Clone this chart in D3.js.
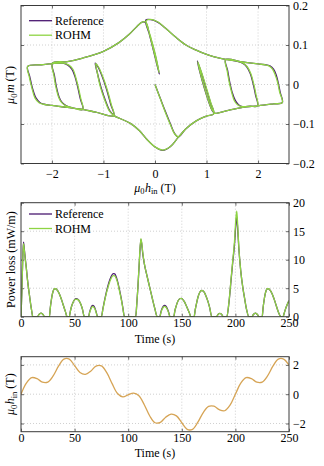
<!DOCTYPE html>
<html>
<head>
<meta charset="utf-8">
<script src="https://cdn.jsdelivr.net/npm/d3@7"></script>
<style>
  body { margin: 0; background: #fff; }
  svg { display: block; }
  text { font-family: "Liberation Serif", "DejaVu Serif", serif; font-size: 12px; fill: #000; }
</style>
</head>
<body>
<div id="chart"></div>
<script>
// ---- data ----
let seriesNames = ['Reference', 'ROHM'];
let hTicks = [-2, -1, 0, 1, 2];
let mTicks = [-0.2, -0.1, 0, 0.1, 0.2];
let timeTicks = [0, 50, 100, 150, 200, 250];
let lossTicks = [0, 5, 10, 15, 20];
let hinTicks = [-2, 0, 2];

// applied field over time (T)
let hinT = [0,5,10,15,20,25,30,35,40,45,50,55,60,65,70,75,80,85,90,95,100,
  105,110,115,120,125,130,135,140,145,150,155,160,165,170,175,180,185,190,195,200,
  205,210,215,220,225,230,235,240,245,250];
let hinVals = [0,0.75,1.13,1.06,0.82,0.83,1.25,1.91,2.40,2.40,1.95,1.48,1.36,1.57,1.92,1.93,1.47,0.72,0.05,-0.18,-0.04,
  0.07,-0.10,-0.72,-1.47,-1.95,-1.92,-1.57,-1.36,-1.48,-1.95,-2.40,-2.40,-1.91,-1.25,-0.83,-0.82,-1.06,-1.13,-0.75,0,
  0.75,1.13,1.06,0.82,0.83,1.25,1.91,2.40,2.40,1.98];

// power loss (mW/m), one row per bump
let lossT = [
  0,0.8,1.6,2.3,3.0,4,5,6,7,8,9,10,11,
  15.5,16.5,17.5,18.7,19.8,20.8,21.8,
  26.5,27.3,28.2,29.2,30.2,31.2,32.5,34,35.5,37,38.5,40,41.5,43,
  45,46,47,48.5,50,51.5,53,54.5,56,57.5,59,
  63,64,65,66,67,68,69,70,71.5,
  75,76.5,78,80,82,84,86,87.5,89,90.5,92,93.5,95,96.5,
  107,108,109,110.5,111.8,112.6,113.5,115,117,119,121,123,125,127,
  129.5,130.5,131.5,132.8,134,135.2,136.5,137.7,139,
  142.5,143.5,144.8,146.3,148,149.5,151,152.5,154,155.5,157,158.5,
  161.5,162.5,163.8,165.2,166.8,168.5,170,171.5,173,174.5,176,178,
  182.5,183.5,184.5,185.5,186.5,187.5,188.5,
  192,194,196,197.5,199,200.5,201.3,202.2,203.2,205,207,208.5,210.5,212.5,
  215.5,216.5,217.5,218.7,219.8,220.8,221.8,
  225,225.8,226.7,227.7,228.7,229.7,231,232.5,234,235.5,237,238.5,240,242.5,
  244.5,245.5,246.5,247.5,248.5,249.3,250];
let lossRef = [
  0,4.5,10,13.1,12.0,10.2,8.5,6.6,5.0,3.6,2.2,1.0,0,
  0,0.3,0.52,0.62,0.52,0.3,0,
  0,1.5,2.8,3.9,4.6,4.9,4.9,4.6,4.1,3.4,2.6,1.7,0.85,0,
  0,0.9,1.7,2.5,3.0,3.15,3.05,2.7,2.1,1.2,0,
  0,0.8,1.4,1.85,2.0,1.85,1.5,0.9,0,
  0,1.5,2.9,4.6,6.0,7.0,7.55,7.5,6.9,5.9,4.6,3.2,1.6,0,
  0,2.2,5,10,13.5,12.8,11.2,9.3,7.6,6.0,4.4,2.8,1.3,0,
  0,0.8,1.4,1.85,2.0,1.85,1.4,0.8,0,
  0,1.0,1.9,2.7,3.15,3.2,3.0,2.6,2.0,1.35,0.7,0,
  0,1.2,2.4,3.5,4.3,4.6,4.5,4.1,3.4,2.6,1.6,0,
  0,0.3,0.52,0.6,0.52,0.3,0,
  0,2.5,6.5,9.5,12.3,16.3,17.5,15.2,12,8,5,3.3,1.2,0,
  0,0.3,0.52,0.62,0.52,0.3,0,
  0,1.5,2.8,3.9,4.6,4.9,4.9,4.6,4.1,3.4,2.6,1.7,0.85,0,
  0,0.6,1.2,1.75,2.2,2.55,2.8];
let lossRohm = [
  0,4.4,9.8,12.8,11.8,10.0,8.4,6.5,5.0,3.6,2.2,1.0,0,
  0,0.3,0.52,0.62,0.52,0.3,0,
  0,1.5,2.8,3.9,4.6,4.9,4.9,4.6,4.1,3.4,2.6,1.7,0.85,0,
  0,0.9,1.7,2.5,2.95,3.1,3.0,2.7,2.1,1.2,0,
  0,0.7,1.25,1.65,1.8,1.65,1.35,0.8,0,
  0,1.4,2.8,4.4,5.7,6.7,7.2,7.15,6.6,5.7,4.4,3.1,1.5,0,
  0,2.2,5,10.2,13.7,13.0,11.4,9.4,7.6,6.0,4.4,2.8,1.3,0,
  0,0.7,1.25,1.65,1.8,1.65,1.25,0.7,0,
  0,1.0,1.9,2.7,3.15,3.2,3.0,2.6,2.0,1.35,0.7,0,
  0,1.2,2.4,3.5,4.3,4.6,4.5,4.1,3.4,2.6,1.6,0,
  0,0.3,0.52,0.6,0.52,0.3,0,
  0,2.6,6.7,9.8,12.8,17.3,18.5,15.8,12.2,8,5,3.3,1.2,0,
  0,0.3,0.52,0.62,0.52,0.3,0,
  0,1.5,2.8,3.9,4.6,4.9,4.9,4.6,4.1,3.4,2.6,1.7,0.85,0,
  0,0.6,1.2,1.75,2.2,2.55,2.8];

// magnetisation loop, [h, m] in time order
let loopRef = [
  [0,0],[0.1,-0.034],[0.2,-0.068],[0.3,-0.1],[0.38,-0.124],[0.45,-0.133],[0.6,-0.112],[0.8,-0.092],[1.0,-0.08],[1.14,-0.074],
  [1.08,-0.047],[1.0,-0.013],[0.91,0.026],[0.82,0.06],
  [0.87,0.032],[0.95,-0.006],[1.04,-0.043],[1.11,-0.066],[1.17,-0.073],[1.4,-0.066],[1.7,-0.058],[2.0,-0.054],[2.3,-0.049],[2.47,-0.046],
  [2.43,-0.02],[2.39,0.005],[2.35,0.025],[2.3,0.039],[2.23,0.047],[2.14,0.05],[2.0,0.052],[1.7,0.057],[1.37,0.063],
  [1.41,0.035],[1.45,0.006],[1.5,-0.021],[1.56,-0.041],[1.62,-0.051],[1.7,-0.056],[1.85,-0.055],[1.99,-0.054],
  [1.95,-0.026],[1.9,0.004],[1.85,0.027],[1.78,0.045],[1.7,0.054],[1.62,0.058],[1.4,0.063],[1.15,0.07],[1.0,0.076],[0.8,0.087],
  [0.6,0.1],[0.4,0.12],[0.2,0.143],[0.05,0.158],[-0.08,0.164],[-0.18,0.163],
  [-0.1,0.124],[0.0,0.076],[0.085,0.026],
  [0.0,0.07],[-0.1,0.122],[-0.18,0.157],[-0.25,0.158],[-0.35,0.147],[-0.5,0.127],[-0.7,0.106],[-1.0,0.084],[-1.4,0.067],[-1.7,0.058],[-1.99,0.054],
  [-1.95,0.022],[-1.91,-0.008],[-1.86,-0.032],[-1.8,-0.046],[-1.72,-0.054],[-1.6,-0.059],[-1.4,-0.063],
  [-1.45,-0.036],[-1.5,-0.006],[-1.55,0.019],[-1.61,0.038],[-1.69,0.049],[-1.79,0.054],[-2.0,0.053],[-2.2,0.05],[-2.47,0.046],
  [-2.43,0.02],[-2.38,-0.008],[-2.31,-0.034],[-2.23,-0.046],[-2.15,-0.05],[-2.0,-0.053],[-1.7,-0.058],[-1.4,-0.063],[-1.15,-0.07],[-0.8,-0.079],
  [-0.86,-0.05],[-0.94,-0.012],[-1.03,0.022],[-1.1,0.043],[-1.16,0.054],
  [-1.12,0.03],[-1.05,-0.006],[-0.96,-0.041],[-0.87,-0.068],[-0.78,-0.08],[-0.68,-0.086],[-0.47,-0.099],[-0.3,-0.117],[-0.15,-0.14],
  [0.0,-0.158],[0.15,-0.167],[0.3,-0.157],[0.45,-0.134],[0.6,-0.112],[0.8,-0.092],[1.0,-0.08],[1.14,-0.074],
  [1.08,-0.047],[1.0,-0.013],[0.91,0.026],[0.82,0.06],
  [0.87,0.032],[0.95,-0.006],[1.04,-0.043],[1.11,-0.066],[1.17,-0.073],[1.4,-0.066],[1.7,-0.058],[2.0,-0.054],[2.3,-0.049],[2.47,-0.046],
  [2.43,-0.02],[2.39,0.005],[2.35,0.025],[2.3,0.039],[2.23,0.047],[2.14,0.05],[2.0,0.052]
];
let loopRohm = [
  [0,0],[0.1,-0.035],[0.2,-0.07],[0.3,-0.102],[0.38,-0.125],[0.45,-0.132],[0.6,-0.112],[0.8,-0.092],[1.0,-0.08],[1.14,-0.074],
  [1.08,-0.045],[1.0,-0.01],[0.91,0.028],[0.83,0.058],
  [0.87,0.034],[0.95,-0.004],[1.04,-0.042],[1.11,-0.065],[1.17,-0.073],[1.4,-0.066],[1.7,-0.058],[2.0,-0.054],[2.3,-0.049],[2.47,-0.046],
  [2.42,-0.02],[2.38,0.005],[2.33,0.025],[2.28,0.039],[2.21,0.047],[2.13,0.05],[2.0,0.052],[1.7,0.057],[1.37,0.063],
  [1.4,0.035],[1.44,0.006],[1.49,-0.021],[1.54,-0.041],[1.6,-0.051],[1.69,-0.056],[1.85,-0.055],[1.99,-0.054],
  [1.96,-0.026],[1.91,0.004],[1.86,0.027],[1.79,0.045],[1.71,0.054],[1.62,0.058],[1.4,0.063],[1.15,0.07],[1.0,0.076],[0.8,0.087],
  [0.6,0.1],[0.4,0.12],[0.2,0.143],[0.05,0.159],[-0.08,0.165],[-0.17,0.162],
  [-0.09,0.123],[0.01,0.074],[0.08,0.03],
  [0.0,0.072],[-0.1,0.124],[-0.18,0.158],[-0.25,0.158],[-0.35,0.147],[-0.5,0.127],[-0.7,0.106],[-1.0,0.084],[-1.4,0.067],[-1.7,0.058],[-1.99,0.054],
  [-1.96,0.022],[-1.92,-0.008],[-1.87,-0.032],[-1.81,-0.046],[-1.73,-0.054],[-1.6,-0.059],[-1.4,-0.063],
  [-1.44,-0.036],[-1.49,-0.006],[-1.54,0.019],[-1.59,0.038],[-1.67,0.049],[-1.78,0.054],[-2.0,0.053],[-2.2,0.05],[-2.47,0.046],
  [-2.44,0.02],[-2.39,-0.008],[-2.33,-0.034],[-2.25,-0.046],[-2.16,-0.05],[-2.0,-0.053],[-1.7,-0.058],[-1.4,-0.063],[-1.15,-0.07],[-0.8,-0.079],
  [-0.85,-0.05],[-0.93,-0.012],[-1.02,0.022],[-1.09,0.043],[-1.15,0.053],
  [-1.12,0.03],[-1.06,-0.006],[-0.97,-0.041],[-0.88,-0.068],[-0.78,-0.08],[-0.68,-0.086],[-0.47,-0.099],[-0.3,-0.117],[-0.15,-0.14],
  [0.0,-0.158],[0.15,-0.166],[0.3,-0.157],[0.45,-0.134],[0.6,-0.112],[0.8,-0.092],[1.0,-0.08],[1.14,-0.074],
  [1.08,-0.045],[1.0,-0.01],[0.91,0.028],[0.83,0.058],
  [0.87,0.034],[0.95,-0.004],[1.04,-0.042],[1.11,-0.065],[1.17,-0.073],[1.4,-0.066],[1.7,-0.058],[2.0,-0.054],[2.3,-0.049],[2.47,-0.046],
  [2.42,-0.02],[2.38,0.005],[2.33,0.025],[2.28,0.039],[2.21,0.047],[2.13,0.05],[2.0,0.052]
];

// ---- drawing ----
let W = 324, H = 466;
let colRef = '#4a1870', colRohm = '#8ed443', colHin = '#d6a455';
let left = 21, right = 289;

let svg = d3.select('#chart').append('svg').attr('width', W).attr('height', H);

let drawFrame = function(id, x, y, xTicks, yTicks, xFmt, yFmt, xLabOff) {
  let g = svg.append('g');
  let [x0, x1] = x.range();
  let [yb, yt] = y.range();

  g.append('clipPath').attr('id', id).append('rect')
    .attr('x', x0).attr('y', yt).attr('width', x1 - x0).attr('height', yb - yt);

  // dotted grid
  g.selectAll('.gx').data(xTicks.filter(d => x(d) > x0 + 1 && x(d) < x1 - 1)).enter().append('line')
    .attr('x1', d => x(d)).attr('x2', d => x(d)).attr('y1', yt).attr('y2', yb)
    .attr('stroke', '#c4c4c4').attr('stroke-width', 0.8).attr('stroke-dasharray', '1,2');
  g.selectAll('.gy').data(yTicks.filter(d => y(d) < yb - 1 && y(d) > yt + 1)).enter().append('line')
    .attr('y1', d => y(d)).attr('y2', d => y(d)).attr('x1', x0).attr('x2', x1)
    .attr('stroke', '#c4c4c4').attr('stroke-width', 0.8).attr('stroke-dasharray', '1,2');

  // ticks inside on all four sides, labels bottom and right
  let ax = g.append('g').attr('transform', 'translate(0,' + yb + ')')
    .call(d3.axisBottom(x).tickValues(xTicks).tickSize(-3).tickPadding(xLabOff).tickFormat(xFmt));
  let axT = g.append('g').attr('transform', 'translate(0,' + yt + ')')
    .call(d3.axisTop(x).tickValues(xTicks).tickSize(-3).tickFormat(''));
  let ay = g.append('g').attr('transform', 'translate(' + x1 + ',0)')
    .call(d3.axisRight(y).tickValues(yTicks).tickSize(-3).tickPadding(4).tickFormat(yFmt));
  let ayL = g.append('g').attr('transform', 'translate(' + x0 + ',0)')
    .call(d3.axisLeft(y).tickValues(yTicks).tickSize(-3).tickFormat(''));
  [ax, axT, ay, ayL].forEach(a => {
    a.attr('font-family', null).attr('font-size', null);
    a.select('.domain').remove();
    a.selectAll('line').attr('stroke', '#444').attr('stroke-width', 0.8);
    a.selectAll('text').attr('fill', '#000');
  });
  return g;
};

let drawBox = function(x, y) {
  let [x0, x1] = x.range();
  let [yb, yt] = y.range();
  svg.append('rect').attr('x', x0).attr('y', yt).attr('width', x1 - x0).attr('height', yb - yt)
    .attr('fill', 'none').attr('stroke', '#3a3a3a').attr('stroke-width', 1);
};

let drawLegend = function(y0) {
  let cols = [colRef, colRohm];
  seriesNames.forEach((name, i) => {
    let yy = y0 + i * 14.5;
    svg.append('line').attr('x1', 29).attr('x2', 52).attr('y1', yy).attr('y2', yy)
      .attr('stroke', cols[i]).attr('stroke-width', 1.3);
    svg.append('text').attr('x', 55).attr('y', yy + 4).text(name);
  });
};

// math label: mu_0 m, mu_0 h_in
let mathLabel = function(sel, sym, sub) {
  sel.append('tspan').attr('font-style', 'italic').text('\u03bc');
  sel.append('tspan').attr('font-size', '8.5px').attr('dy', 2.5).text('0');
  sel.append('tspan').attr('font-style', 'italic').attr('dy', -2.5).attr('dx', 0.5).text(sym);
  if (sub) sel.append('tspan').attr('font-size', '8.5px').attr('dy', 2.5).text(sub);
  sel.append('tspan').attr('dy', sub ? -2.5 : 0).text(' (T)');
};

let fmtNum = d3.format('');

// panel 1: loop
let x1s = d3.scaleLinear().domain([-2.6, 2.6]).range([left, right]);
let y1s = d3.scaleLinear().domain([-0.2, 0.2]).range([163.5, 5.5]);
drawFrame('clip1', x1s, y1s, hTicks, mTicks, fmtNum, d3.format('.1~f'), 6);
let loopLine = d3.line().x(d => x1s(d[0])).y(d => y1s(d[1])).curve(d3.curveCatmullRom.alpha(0.5));
svg.append('path').datum(loopRef).attr('d', loopLine).attr('clip-path', 'url(#clip1)')
  .attr('fill', 'none').attr('stroke', colRef).attr('stroke-width', 1.3);
svg.append('path').datum(loopRohm).attr('d', loopLine).attr('clip-path', 'url(#clip1)')
  .attr('fill', 'none').attr('stroke', colRohm).attr('stroke-width', 1.3);
drawBox(x1s, y1s);
drawLegend(20.7);
mathLabel(svg.append('text').attr('x', 155).attr('y', 191.5).attr('text-anchor', 'middle'), 'h', 'in');
mathLabel(svg.append('text').attr('transform', 'translate(14,85) rotate(-90)').attr('text-anchor', 'middle'), 'm', null);

// panel 2: power loss
let xt2 = d3.scaleLinear().domain([0, 250]).range([left, right]);
let y2s = d3.scaleLinear().domain([0, 20]).range([316.7, 202.7]);
drawFrame('clip2', xt2, y2s, timeTicks, lossTicks, fmtNum, fmtNum, 2);
let lossLine = (vals) => d3.line().x((d, i) => xt2(lossT[i])).y(d => y2s(d)).curve(d3.curveMonotoneX)(vals);
svg.append('path').attr('d', lossLine(lossRef)).attr('clip-path', 'url(#clip2)')
  .attr('fill', 'none').attr('stroke', colRef).attr('stroke-width', 1.3);
svg.append('path').attr('d', lossLine(lossRohm)).attr('clip-path', 'url(#clip2)')
  .attr('fill', 'none').attr('stroke', colRohm).attr('stroke-width', 1.3);
drawBox(xt2, y2s);
drawLegend(214);
svg.append('text').attr('x', 155).attr('y', 342.5).attr('text-anchor', 'middle').text('Time (s)');
svg.append('text').attr('transform', 'translate(15,259.7) rotate(-90)').attr('text-anchor', 'middle').text('Power loss (mW/m)');

// panel 3: applied field
let xt3 = d3.scaleLinear().domain([0, 250]).range([left, right]);
let y3s = d3.scaleLinear().domain([-2.56, 2.56]).range([431.7, 356.7]);
drawFrame('clip3', xt3, y3s, timeTicks, hinTicks, fmtNum, fmtNum, 2);
let hinLine = d3.line().x((d, i) => xt3(hinT[i])).y(d => y3s(d)).curve(d3.curveCatmullRom.alpha(0.5));
svg.append('path').datum(hinVals).attr('d', hinLine).attr('clip-path', 'url(#clip3)')
  .attr('fill', 'none').attr('stroke', colHin).attr('stroke-width', 1.3);
drawBox(xt3, y3s);
svg.append('text').attr('x', 155).attr('y', 457).attr('text-anchor', 'middle').text('Time (s)');
mathLabel(svg.append('text').attr('transform', 'translate(14,394.2) rotate(-90)').attr('text-anchor', 'middle'), 'h', 'in');
</script>
</body>
</html>
